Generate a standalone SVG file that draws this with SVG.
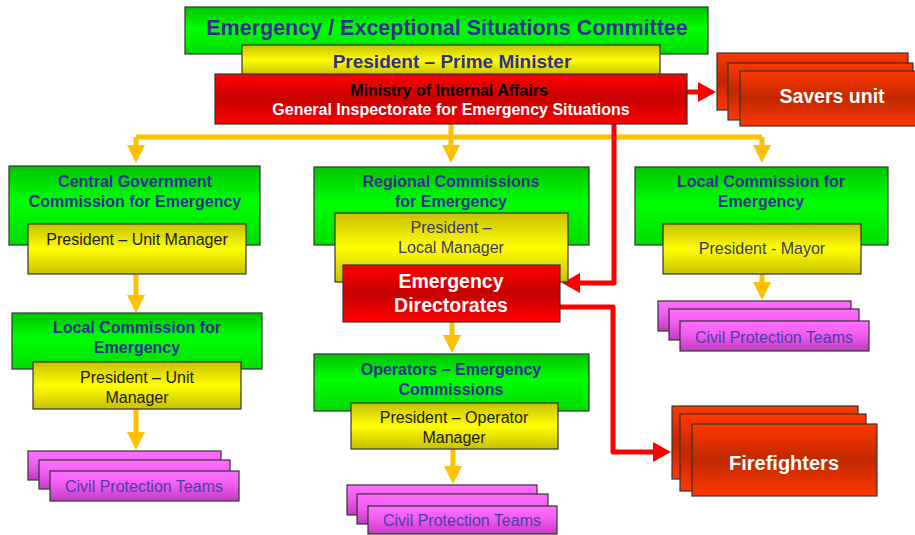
<svg xmlns="http://www.w3.org/2000/svg" width="915" height="535" viewBox="0 0 915 535">
<defs>
<linearGradient id="gGreen" x1="0" y1="0" x2="0" y2="1"><stop offset="0" stop-color="#00c400"/><stop offset="0.45" stop-color="#00ff00"/><stop offset="1" stop-color="#00dc00"/></linearGradient>
<linearGradient id="gYellow" x1="0" y1="0" x2="0" y2="1"><stop offset="0" stop-color="#c8c000"/><stop offset="0.5" stop-color="#ffff00"/><stop offset="1" stop-color="#c8c000"/></linearGradient>
<linearGradient id="gRed" x1="0" y1="0" x2="0" y2="1"><stop offset="0" stop-color="#ff0000"/><stop offset="0.5" stop-color="#c80000"/><stop offset="1" stop-color="#ff0000"/></linearGradient>
<linearGradient id="gOrange" x1="0" y1="0" x2="0" y2="1"><stop offset="0" stop-color="#ff3800"/><stop offset="0.5" stop-color="#c02800"/><stop offset="1" stop-color="#ff3800"/></linearGradient>
<linearGradient id="gPink" x1="0" y1="0" x2="0" y2="1"><stop offset="0" stop-color="#ff70ff"/><stop offset="0.45" stop-color="#f25cf2"/><stop offset="1" stop-color="#c03cc0"/></linearGradient>
<marker id="ay" viewBox="0 0 18 18" refX="8" refY="9" markerWidth="18" markerHeight="18" markerUnits="userSpaceOnUse" orient="auto"><path d="M0,0 L18,9 L0,18 Z" fill="#ffc000"/></marker>
<marker id="ar" viewBox="0 0 18 20" refX="8" refY="10" markerWidth="18" markerHeight="20" markerUnits="userSpaceOnUse" orient="auto"><path d="M0,0 L18,10 L0,20 Z" fill="#ff0000"/></marker>
<style>
.box{stroke:#333333;stroke-width:1.2}
.green{fill:url(#gGreen)}
.yellow{fill:url(#gYellow)}
.red{fill:url(#gRed)}
.orange{fill:url(#gOrange)}
.pink{fill:url(#gPink)}
text{font-family:"Liberation Sans",Arial,sans-serif;text-anchor:middle}
.hb{font-weight:bold;fill:#2e3192;font-size:16px}
.pr{fill:#1a1a1a;font-size:16px}
.pg{fill:#3a3a6a;font-size:16px}
.ct{fill:#4b3ca8;font-size:16px}
.wb{fill:#ffffff;font-weight:bold}
.yl{fill:none;stroke:#ffc000;stroke-width:5}
.rl{fill:none;stroke:#ff0000;stroke-width:5;stroke-linejoin:round}
</style>
</defs>

<g id="connectors">
<path class="yl" d="M451,124 V137"/>
<path class="yl" d="M136,137 H762"/>
<path class="yl" d="M136,137 V153" marker-end="url(#ay)"/>
<path class="yl" d="M451,137 V153" marker-end="url(#ay)"/>
<path class="yl" d="M762,137 V153" marker-end="url(#ay)"/>
<path class="yl" d="M136,274 V303" marker-end="url(#ay)"/>
<path class="yl" d="M136,409 V440" marker-end="url(#ay)"/>
<path class="yl" d="M452,322 V343" marker-end="url(#ay)"/>
<path class="yl" d="M453,449 V474" marker-end="url(#ay)"/>
<path class="yl" d="M762,274 V290" marker-end="url(#ay)"/>
<path class="rl" d="M687,92 H706" marker-end="url(#ar)"/>
<path class="rl" d="M614,124 V283 H572" marker-end="url(#ar)"/>
<path class="rl" d="M560,307 H613 V452 H661" marker-end="url(#ar)"/>
</g>

<g id="committee">
<rect class="box green" x="185" y="7" width="523" height="47"/>
<text x="447" y="35" class="hb" style="font-size:21.5px">Emergency / Exceptional Situations Committee</text>
</g>
<g id="prime-minister">
<rect class="box yellow" x="242" y="45" width="418" height="30"/>
<text x="452" y="68" class="hb" style="font-size:19px">President – Prime Minister</text>
</g>
<g id="ministry">
<rect class="box red" x="215" y="74" width="472" height="50"/>
<text x="449" y="96" style="font-weight:bold;font-size:16px;fill:#000000">Ministry of Internal Affairs</text>
<text x="451" y="115" class="wb" style="font-size:16px">General Inspectorate for Emergency Situations</text>
</g>
<g id="savers-unit">
<rect class="box orange" x="717" y="53" width="191" height="57"/>
<rect class="box orange" x="728" y="63" width="185" height="57"/>
<rect class="box orange" x="740" y="71" width="180" height="55"/>
<text x="832" y="103" class="wb" style="font-size:19.5px">Savers unit</text>
</g>

<g id="central-gov">
<rect class="box green" x="9" y="166" width="251" height="79"/>
<text x="135" y="187" class="hb">Central Government</text>
<text x="135" y="207" class="hb">Commission for Emergency</text>
<rect class="box yellow" x="28" y="224" width="218" height="50"/>
<text x="137" y="245" class="pr">President – Unit Manager</text>
</g>
<g id="local-left">
<rect class="box green" x="12" y="313" width="250" height="56"/>
<text x="137" y="333" class="hb">Local Commission for</text>
<text x="137" y="353" class="hb">Emergency</text>
<rect class="box yellow" x="33" y="362" width="208" height="47"/>
<text x="137" y="383" class="pr">President – Unit</text>
<text x="137" y="403" class="pr">Manager</text>
</g>
<g id="cpt-left">
<rect class="box pink" x="28" y="451" width="193" height="29"/>
<rect class="box pink" x="39" y="460" width="191" height="29"/>
<rect class="box pink" x="50" y="471" width="189" height="30"/>
<text x="144" y="492" class="ct">Civil Protection Teams</text>
</g>

<g id="regional">
<rect class="box green" x="314" y="167" width="275" height="78"/>
<text x="451" y="187" class="hb">Regional Commissions</text>
<text x="451" y="207" class="hb">for Emergency</text>
<rect class="box yellow" x="335" y="213" width="233" height="69"/>
<text x="451" y="233" class="pg">President –</text>
<text x="451" y="253" class="pg">Local Manager</text>
</g>
<g id="directorates">
<rect class="box red" x="343" y="265" width="217" height="57"/>
<text x="451" y="288" class="wb" style="font-size:19.5px">Emergency</text>
<text x="451" y="312" class="wb" style="font-size:19.5px">Directorates</text>
</g>
<g id="operators">
<rect class="box green" x="314" y="354" width="275" height="57"/>
<text x="451" y="375" class="hb">Operators – Emergency</text>
<text x="451" y="395" class="hb">Commissions</text>
<rect class="box yellow" x="351" y="403" width="207" height="46"/>
<text x="454" y="423" class="pr">President – Operator</text>
<text x="454" y="443" class="pr">Manager</text>
</g>
<g id="cpt-middle">
<rect class="box pink" x="347" y="485" width="190" height="30"/>
<rect class="box pink" x="357" y="494" width="191" height="30"/>
<rect class="box pink" x="368" y="506" width="189" height="28"/>
<text x="462" y="526" class="ct">Civil Protection Teams</text>
</g>

<g id="local-right">
<rect class="box green" x="635" y="167" width="253" height="78"/>
<text x="761" y="187" class="hb">Local Commission for</text>
<text x="761" y="207" class="hb">Emergency</text>
<rect class="box yellow" x="663" y="224" width="198" height="50"/>
<text x="762" y="254" class="pg">President - Mayor</text>
</g>
<g id="cpt-right">
<rect class="box pink" x="658" y="301" width="193" height="30"/>
<rect class="box pink" x="669" y="309" width="190" height="31"/>
<rect class="box pink" x="680" y="321" width="189" height="30"/>
<text x="774" y="343" class="ct">Civil Protection Teams</text>
</g>
<g id="firefighters">
<rect class="box orange" x="672" y="406" width="186" height="73"/>
<rect class="box orange" x="680" y="414" width="186" height="77"/>
<rect class="box orange" x="692" y="424" width="185" height="72"/>
<text x="784" y="470" class="wb" style="font-size:20px">Firefighters</text>
</g>
</svg>
